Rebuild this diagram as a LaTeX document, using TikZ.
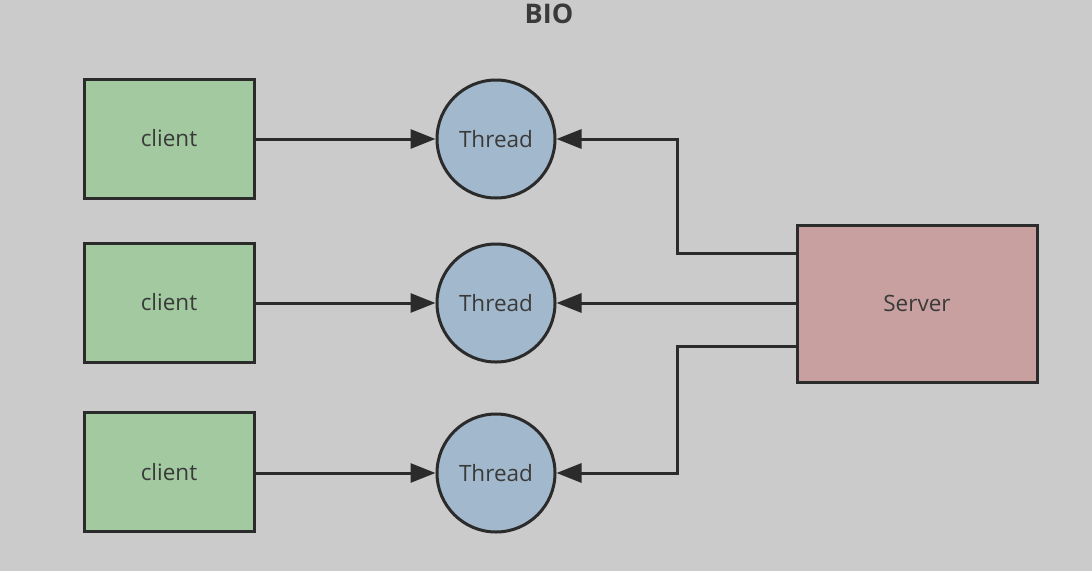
\documentclass[tikz,border=0pt]{standalone}
\usepackage{fontspec}
\setmainfont{Open Sans}
\usetikzlibrary{arrows.meta}
\definecolor{bgc}{HTML}{CBCBCB}
\definecolor{clientc}{HTML}{A2C99F}
\definecolor{threadc}{HTML}{A2B8CC}
\definecolor{serverc}{HTML}{C9A0A0}
\definecolor{linec}{HTML}{2B2B2B}
\definecolor{textc}{HTML}{3A3A3A}
\tikzset{
  clientbox/.style={draw=linec, line width=3pt, fill=clientc, minimum width=170pt, minimum height=119pt, inner sep=0pt, text=textc, font=\fontsize{22.5}{26}\selectfont},
  threadnode/.style={circle, draw=linec, line width=3pt, fill=threadc, minimum size=118pt, inner sep=0pt, text=textc, font=\fontsize{22.5}{26}\selectfont},
  serverbox/.style={draw=linec, line width=3pt, fill=serverc, minimum width=240pt, minimum height=157pt, inner sep=0pt, text=textc, font=\fontsize{22.5}{26}\selectfont},
  conn/.style={draw=linec, line width=3pt, -{Triangle[length=25pt, width=19pt]}},
}
\begin{document}
\begin{tikzpicture}[x=1pt, y=-1pt]
\fill[bgc] (0,0) rectangle (1092,571);
\useasboundingbox (0,0) rectangle (1092,571);
\node[text=textc, font=\bfseries\fontsize{27}{30}\selectfont] (title) at (549,14) {BIO};
\node[clientbox] (c1) at (169,138.5) {client};
\node[clientbox] (c2) at (169,302.5) {client};
\node[clientbox] (c3) at (169,472) {client};
\node[threadnode] (t1) at (496,139) {Thread};
\node[threadnode] (t2) at (496,303) {Thread};
\node[threadnode] (t3) at (496,473) {Thread};
\node[serverbox] (s) at (917,303.5) {Server};
\coordinate (s1) at (s.west |- 0,253);
\coordinate (s3) at (s.west |- 0,346);
\draw[conn] (c1.east |- t1) -- (t1);
\draw[conn] (c2.east |- t2) -- (t2);
\draw[conn] (c3.east |- t3) -- (t3);
\draw[conn] (s1) -| (677,139) -- (t1.east);
\draw[conn] (s.west |- t2) -- (t2.east);
\draw[conn] (s3) -| (677,473) -- (t3.east);
\end{tikzpicture}
\end{document}
